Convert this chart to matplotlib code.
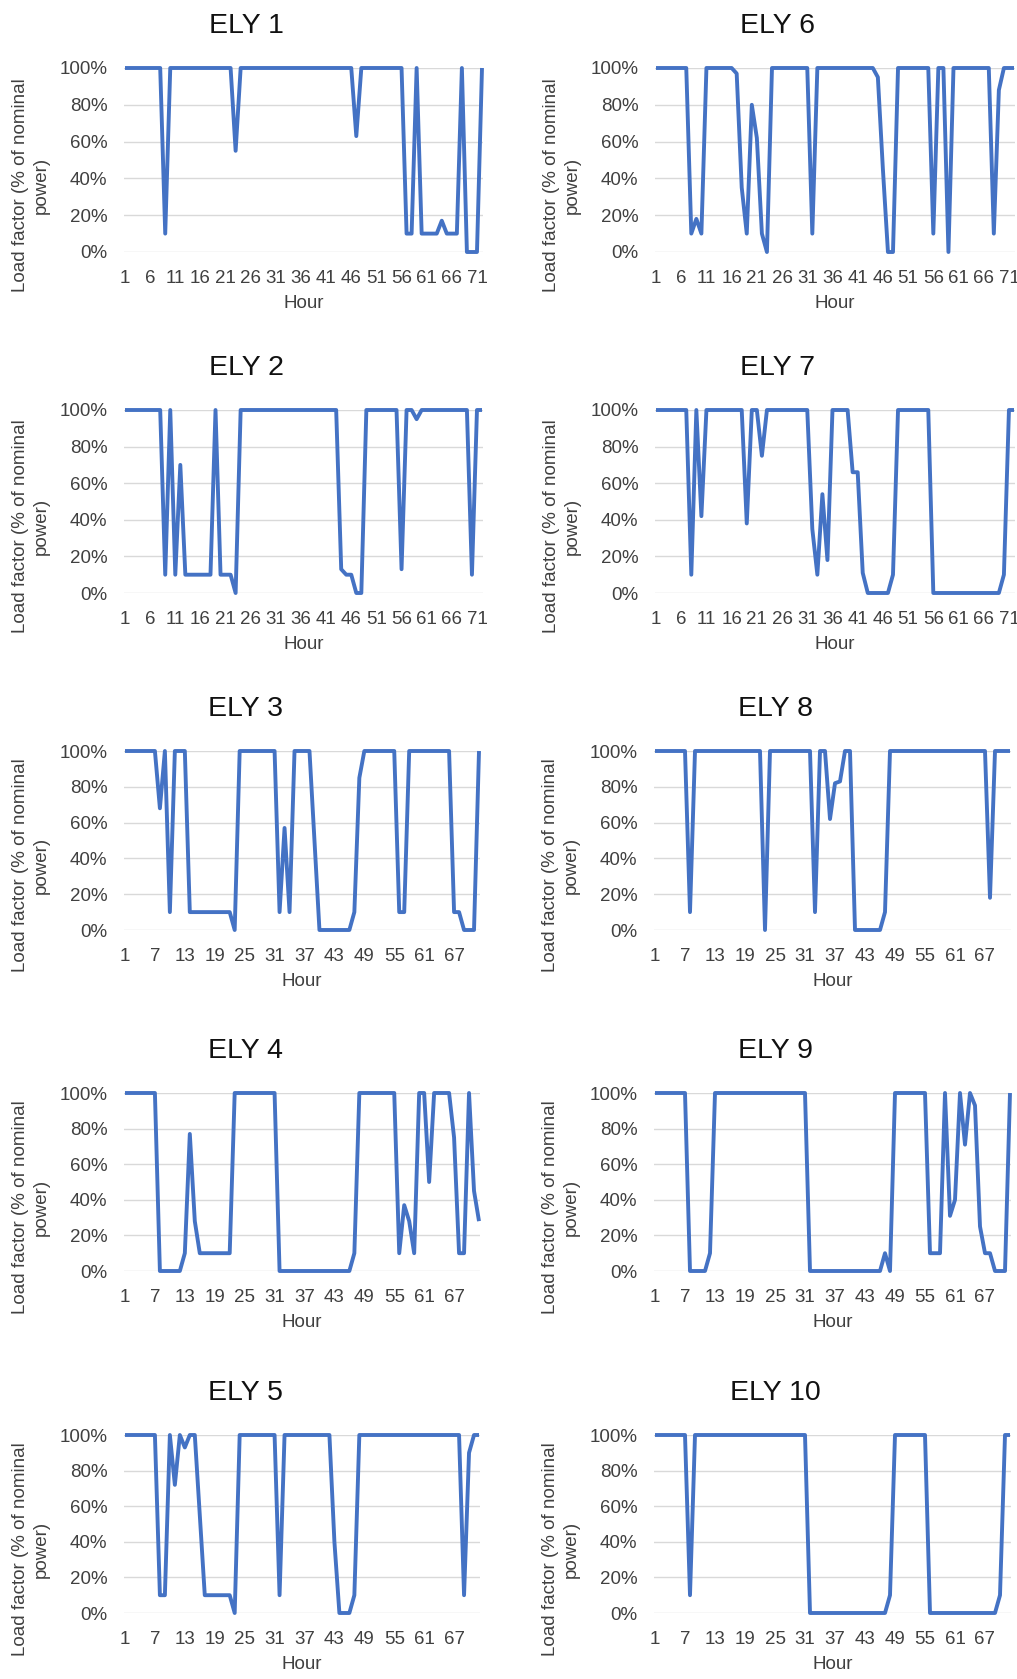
import matplotlib
matplotlib.use("Agg")
import matplotlib.pyplot as plt
from matplotlib.ticker import PercentFormatter

plt.rcParams['font.family'] = ['Liberation Sans', 'DejaVu Sans']

W, H = 1017, 1679
BLUE = '#4472C4'
TXT = '#404040'

hours = list(range(1, 73))

# load factor (%) per hour
ely1 = [100, 100, 100, 100, 100, 100, 100, 100, 10, 100, 100, 100,
        100, 100, 100, 100, 100, 100, 100, 100, 100, 100, 55, 100,
        100, 100, 100, 100, 100, 100, 100, 100, 100, 100, 100, 100,
        100, 100, 100, 100, 100, 100, 100, 100, 100, 100, 63, 100,
        100, 100, 100, 100, 100, 100, 100, 100, 10, 10, 100, 10,
        10, 10, 10, 17, 10, 10, 10, 100, 0, 0, 0, 100]
ely2 = [100, 100, 100, 100, 100, 100, 100, 100, 10, 100, 10, 70,
        10, 10, 10, 10, 10, 10, 100, 10, 10, 10, 0, 100,
        100, 100, 100, 100, 100, 100, 100, 100, 100, 100, 100, 100,
        100, 100, 100, 100, 100, 100, 100, 13, 10, 10, 0, 0,
        100, 100, 100, 100, 100, 100, 100, 13, 100, 100, 95, 100,
        100, 100, 100, 100, 100, 100, 100, 100, 100, 10, 100, 100]
ely3 = [100, 100, 100, 100, 100, 100, 100, 68, 100, 10, 100, 100,
        100, 10, 10, 10, 10, 10, 10, 10, 10, 10, 0, 100,
        100, 100, 100, 100, 100, 100, 100, 10, 57, 10, 100, 100,
        100, 100, 50, 0, 0, 0, 0, 0, 0, 0, 10, 85,
        100, 100, 100, 100, 100, 100, 100, 10, 10, 100, 100, 100,
        100, 100, 100, 100, 100, 100, 10, 10, 0, 0, 0, 100]
ely4 = [100, 100, 100, 100, 100, 100, 100, 0, 0, 0, 0, 0,
        10, 77, 28, 10, 10, 10, 10, 10, 10, 10, 100, 100,
        100, 100, 100, 100, 100, 100, 100, 0, 0, 0, 0, 0,
        0, 0, 0, 0, 0, 0, 0, 0, 0, 0, 10, 100,
        100, 100, 100, 100, 100, 100, 100, 10, 37, 28, 10, 100,
        100, 50, 100, 100, 100, 100, 75, 10, 10, 100, 45, 28]
ely5 = [100, 100, 100, 100, 100, 100, 100, 10, 10, 100, 72, 100,
        93, 100, 100, 55, 10, 10, 10, 10, 10, 10, 0, 100,
        100, 100, 100, 100, 100, 100, 100, 10, 100, 100, 100, 100,
        100, 100, 100, 100, 100, 100, 40, 0, 0, 0, 10, 100,
        100, 100, 100, 100, 100, 100, 100, 100, 100, 100, 100, 100,
        100, 100, 100, 100, 100, 100, 100, 100, 10, 90, 100, 100]
ely6 = [100, 100, 100, 100, 100, 100, 100, 10, 18, 10, 100, 100,
        100, 100, 100, 100, 97, 35, 10, 80, 62, 10, 0, 100,
        100, 100, 100, 100, 100, 100, 100, 10, 100, 100, 100, 100,
        100, 100, 100, 100, 100, 100, 100, 100, 95, 45, 0, 0,
        100, 100, 100, 100, 100, 100, 100, 10, 100, 100, 0, 100,
        100, 100, 100, 100, 100, 100, 100, 10, 88, 100, 100, 100]
ely7 = [100, 100, 100, 100, 100, 100, 100, 10, 100, 42, 100, 100,
        100, 100, 100, 100, 100, 100, 38, 100, 100, 75, 100, 100,
        100, 100, 100, 100, 100, 100, 100, 35, 10, 54, 18, 100,
        100, 100, 100, 66, 66, 11, 0, 0, 0, 0, 0, 10,
        100, 100, 100, 100, 100, 100, 100, 0, 0, 0, 0, 0,
        0, 0, 0, 0, 0, 0, 0, 0, 0, 10, 100, 100]
ely8 = [100, 100, 100, 100, 100, 100, 100, 10, 100, 100, 100, 100,
        100, 100, 100, 100, 100, 100, 100, 100, 100, 100, 0, 100,
        100, 100, 100, 100, 100, 100, 100, 100, 10, 100, 100, 62,
        82, 83, 100, 100, 0, 0, 0, 0, 0, 0, 10, 100,
        100, 100, 100, 100, 100, 100, 100, 100, 100, 100, 100, 100,
        100, 100, 100, 100, 100, 100, 100, 18, 100, 100, 100, 100]
ely9 = [100, 100, 100, 100, 100, 100, 100, 0, 0, 0, 0, 10,
        100, 100, 100, 100, 100, 100, 100, 100, 100, 100, 100, 100,
        100, 100, 100, 100, 100, 100, 100, 0, 0, 0, 0, 0,
        0, 0, 0, 0, 0, 0, 0, 0, 0, 0, 10, 0,
        100, 100, 100, 100, 100, 100, 100, 10, 10, 10, 100, 31,
        40, 100, 71, 100, 93, 25, 10, 10, 0, 0, 0, 100]
ely10 = [100, 100, 100, 100, 100, 100, 100, 10, 100, 100, 100, 100,
         100, 100, 100, 100, 100, 100, 100, 100, 100, 100, 100, 100,
         100, 100, 100, 100, 100, 100, 100, 0, 0, 0, 0, 0,
         0, 0, 0, 0, 0, 0, 0, 0, 0, 0, 0, 10,
         100, 100, 100, 100, 100, 100, 100, 0, 0, 0, 0, 0,
         0, 0, 0, 0, 0, 0, 0, 0, 0, 10, 100, 100]

left_col = [("ELY 1", ely1), ("ELY 2", ely2), ("ELY 3", ely3), ("ELY 4", ely4), ("ELY 5", ely5)]
right_col = [("ELY 6", ely6), ("ELY 7", ely7), ("ELY 8", ely8), ("ELY 9", ely9), ("ELY 10", ely10)]

# plot area rows in pixels (top, bottom) and tick step for the hour axis
rows_px = [(68, 252), (410, 593), (751, 930), (1093, 1271), (1435, 1613)]
steps = [5, 5, 6, 6, 6]


def add_panel(fig, name, values, box, step):
    l, t, r, b = box
    ax = fig.add_axes([l / W, 1 - b / H, (r - l) / W, (b - t) / H])
    ax.plot(hours, values, color=BLUE, lw=2.8, clip_on=False,
            solid_joinstyle='round', solid_capstyle='butt', zorder=3)
    ax.set_xlim(0.8, 72.2)
    ax.set_ylim(0, 100)
    ax.set_yticks(range(0, 101, 20))
    ax.yaxis.set_major_formatter(PercentFormatter(xmax=100, decimals=0))
    ax.set_xticks(hours[::step])
    ax.grid(axis='y', color='#d9d9d9', lw=1)
    ax.grid(axis='x', visible=False)
    ax.set_axisbelow(True)
    for s in ax.spines.values():
        s.set_visible(False)
    ax.tick_params(length=0, labelsize=13.5, labelcolor=TXT)
    ax.tick_params(axis='y', pad=12)
    ax.tick_params(axis='x', pad=13)
    ax.set_xlabel('Hour', fontsize=13.5, color=TXT, labelpad=6)

    cx = (l + r) / 2
    fig.text((cx - 57) / W, 1 - (t - 42) / H, name, ha='center', va='center',
             fontsize=20.5, color='#111111')
    fig.text((l - 93) / W, 1 - ((t + b) / 2 + 25) / H,
             'Load factor (% of nominal\npower)', rotation=90, ha='center',
             va='center', multialignment='center', fontsize=13.5,
             linespacing=1.28, color=TXT)
    return ax


fig = plt.figure(figsize=(W / 100, H / 100), dpi=100)

for i, ((nl, vl), (nr, vr)) in enumerate(zip(left_col, right_col)):
    t, b = rows_px[i]
    if i < 2:
        lbox, rbox = (124, t, 483, b), (655, t, 1015, b)
    else:
        lbox, rbox = (124, t, 480, b), (654, t, 1011, b)
    add_panel(fig, nl, vl, lbox, steps[i])
    add_panel(fig, nr, vr, rbox, steps[i])

fig.savefig('out.png', dpi=100)
